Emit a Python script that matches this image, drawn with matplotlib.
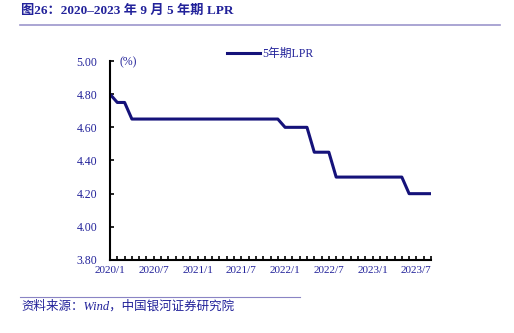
import matplotlib.pyplot as plt
import matplotlib.lines as mlines
import numpy as np

plt.rcParams["font.family"] = ["Liberation Serif", "Noto Sans CJK SC"]

# monthly 5-year LPR, 2020/1 .. 2023/9
months = [f"{y}/{m}" for y in range(2020, 2024) for m in range(1, 13)][:45]
lpr = (
    [4.80, 4.75, 4.75] + [4.65] * 21
    + [4.60] * 4 + [4.45] * 3
    + [4.30] * 10 + [4.20] * 4
)
tick_labels = ["2020/1", "2020/7", "2021/1", "2021/7", "2022/1", "2022/7", "2023/1", "2023/7"]
yticks = [3.80, 4.00, 4.20, 4.40, 4.60, 4.80, 5.00]

navy = "#22229a"
line_c = "#15127a"

fig = plt.figure(figsize=(5.14, 3.33), dpi=100)
ax = fig.add_axes([110 / 514, 1 - 260 / 333, 321 / 514, 199 / 333])

x = np.arange(len(lpr))
ax.plot(x, lpr, color=line_c, lw=2.2)

ax.set_xlim(0, len(lpr) - 1)
ax.set_ylim(3.80, 5.00)
ax.set_yticks(yticks)
ax.set_yticklabels([f"{v:.2f}" for v in yticks], color=navy, fontsize=8.5)
ax.set_xticks([months.index(t) for t in tick_labels])
ax.set_xticklabels(tick_labels, color=navy, fontsize=8)
ax.set_xticks(x, minor=True)

ax.tick_params(axis="y", direction="in", length=3, width=1.2, pad=9)
ax.tick_params(axis="x", which="both", direction="in", length=3, width=1.2, pad=4)
for s in ["top", "right"]:
    ax.spines[s].set_visible(False)
for s in ["left", "bottom"]:
    ax.spines[s].set_linewidth(1.5)

ax.text(0.03, 0.995, "(%)", transform=ax.transAxes, color=navy, fontsize=8.5,
        va="center", ha="left")

handle = mlines.Line2D([], [], color=line_c, lw=2.2)
ax.legend([handle], ["5年期LPR"], loc="upper center", bbox_to_anchor=(0.5, 1.12),
          frameon=False, fontsize=8.5, labelcolor=navy, handlelength=2.8,
          handletextpad=0.2)

fig.text(21 / 514, 1 - 11 / 333, "图26：2020–2023 年 9 月 5 年期 LPR", color=navy,
         fontsize=9.5, fontweight="bold", va="center", ha="left")
fig.add_artist(mlines.Line2D([20 / 514, 500 / 514], [1 - 25 / 333] * 2,
                             color="#9c96cc", lw=1.2))
fig.add_artist(mlines.Line2D([20 / 514, 300 / 514], [1 - 297 / 333] * 2,
                             color="#8a84c4", lw=0.8))
fig.text(21 / 514, 1 - 306 / 333, "资料来源：Wind，中国银河证券研究院", color=navy,
         fontsize=9, style="italic", va="center", ha="left")

fig.savefig("out.png", dpi=100)
